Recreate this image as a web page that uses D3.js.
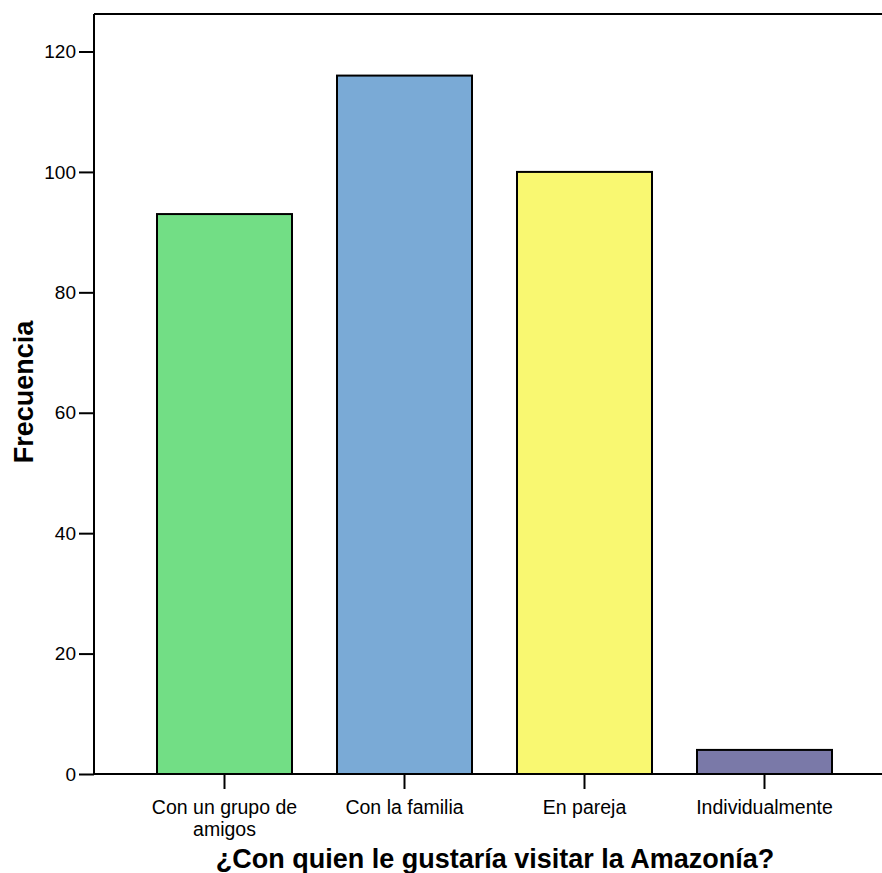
<!DOCTYPE html>
<html>
<head>
<meta charset="utf-8">
<script src="https://cdn.jsdelivr.net/npm/d3@7/dist/d3.min.js"></script>
<style>
  html, body { margin: 0; padding: 0; background: #fff; }
  svg { display: block; font-family: "Liberation Sans", Arial, sans-serif; }
</style>
</head>
<body>
<svg id="chart" width="882" height="873"></svg>
<script>
// Frequencies per answer
const categories = ["Con un grupo de amigos", "Con la familia", "En pareja", "Individualmente"];
const labelLines = [["Con un grupo de", "amigos"], ["Con la familia"], ["En pareja"], ["Individualmente"]];
const frequencies = [93, 116, 100, 4];
const barColors = ["#72de85", "#7aaad6", "#f9f871", "#7a79a8"];
const yTicks = [0, 20, 40, 60, 80, 100, 120];

const svg = d3.select("#chart");
const plotLeft = 94, plotRight = 895, plotTop = 14, plotBottom = 774;

const x = d3.scaleBand()
  .domain(categories)
  .range([plotLeft, plotRight])
  .paddingInner(0.25)
  .paddingOuter(0.35);

const y = d3.scaleLinear()
  .domain([0, 120])
  .range([plotBottom, plotBottom - 722.5]);

// bars
svg.append("g")
  .selectAll("rect")
  .data(categories)
  .join("rect")
  .attr("x", d => x(d))
  .attr("y", (d, i) => y(frequencies[i]))
  .attr("width", x.bandwidth())
  .attr("height", (d, i) => y(0) - y(frequencies[i]))
  .attr("fill", (d, i) => barColors[i])
  .attr("stroke", "#000")
  .attr("stroke-width", 2);

// frame: top line
svg.append("line")
  .attr("x1", plotLeft).attr("x2", 882)
  .attr("y1", plotTop).attr("y2", plotTop)
  .attr("stroke", "#000").attr("stroke-width", 2);

// y axis
const yAxis = svg.append("g")
  .attr("transform", `translate(${plotLeft},0)`)
  .call(d3.axisLeft(y).tickValues(yTicks).tickSize(15).tickPadding(3));
yAxis.select(".domain").attr("d", `M0,${plotTop}V${plotBottom}`).attr("stroke-width", 2);
yAxis.selectAll(".tick line").attr("stroke-width", 2);
yAxis.selectAll(".tick text").attr("font-size", 19).attr("fill", "#000")
  .attr("font-family", "Liberation Sans, Arial, sans-serif");

// x axis
const xAxis = svg.append("g")
  .attr("transform", `translate(0,${plotBottom})`)
  .call(d3.axisBottom(x).tickSize(15).tickFormat(""));
xAxis.select(".domain").attr("d", `M${plotLeft},0H882`).attr("stroke-width", 2);
xAxis.selectAll(".tick line").attr("stroke-width", 2);

// category labels, wrapped
xAxis.selectAll(".tick").each(function(d, i) {
  const t = d3.select(this).append("text")
    .attr("fill", "#000")
    .attr("font-size", 19.5)
    .attr("text-anchor", "middle")
    .attr("font-family", "Liberation Sans, Arial, sans-serif");
  labelLines[i].forEach((line, k) => {
    t.append("tspan").attr("x", 0).attr("y", 40 + k * 22).text(line);
  });
});

// axis titles
svg.append("text")
  .attr("x", 495)
  .attr("y", 868)
  .attr("text-anchor", "middle")
  .attr("font-size", 27)
  .attr("font-weight", "bold")
  .text("¿Con quien le gustaría visitar la Amazonía?");

svg.append("text")
  .attr("transform", `translate(33,392) rotate(-90)`)
  .attr("text-anchor", "middle")
  .attr("font-size", 27)
  .attr("font-weight", "bold")
  .text("Frecuencia");
</script>
</body>
</html>
